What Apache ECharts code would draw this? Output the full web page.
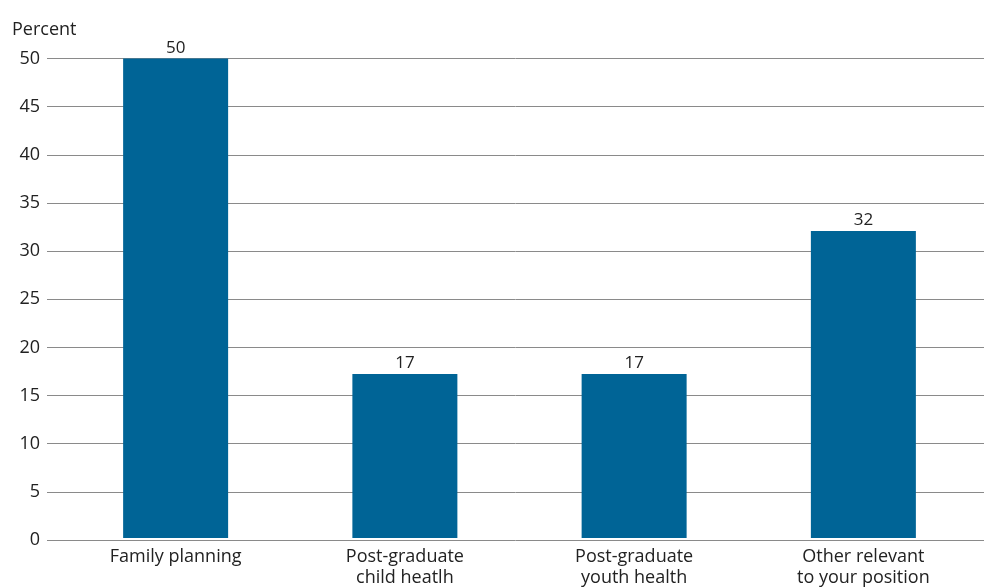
<!DOCTYPE html>
<html><head><meta charset="utf-8">
<script src="https://cdn.jsdelivr.net/npm/echarts@6/dist/echarts.min.js"></script>
<style>html,body{margin:0;padding:0;background:#fff}#c{width:984px;height:588px}</style>
</head><body><div id="c"></div>
<script>
const categories = ['Family planning', 'Post-graduate\nchild heatlh', 'Post-graduate\nyouth health', 'Other relevant\nto your position'];
const values = [50, 17.1, 17.1, 32.0];
const yTicks = { min: 0, max: 50, interval: 5 };
const yName = 'Percent';

const font = '"Open Sans", "Noto Sans", sans-serif';
const txt = '#222';
const gridCol = '#8a8a8a';
const chart = echarts.init(document.getElementById('c'), null, { renderer: 'canvas' });
chart.setOption({
  animation: false,
  textStyle: { fontFamily: font },
  grid: [
    { left: 47, right: 0, top: 58.5, bottom: 48 },
    { left: 61, right: 6, top: 58.5, bottom: 48 }
  ],
  xAxis: [
    { gridIndex: 0, type: 'category', data: ['a'], show: false },
    { gridIndex: 1, type: 'category', data: categories,
      axisLine: { show: false }, axisTick: { show: false },
      axisLabel: { color: txt, fontSize: 18, fontFamily: font, lineHeight: 21, margin: 8 } }
  ],
  yAxis: [
    { gridIndex: 0, type: 'value', min: yTicks.min, max: yTicks.max, interval: yTicks.interval,
      name: yName, nameLocation: 'end', nameGap: 0,
      nameTextStyle: { color: txt, fontSize: 18, fontFamily: font, align: 'left', padding: [0, 0, 20, -35] },
      axisLine: { show: false }, axisTick: { show: false },
      axisLabel: { color: txt, fontSize: 18, fontFamily: font, margin: 7 },
      splitLine: { lineStyle: { color: gridCol, width: 1 } } },
    { gridIndex: 1, type: 'value', min: yTicks.min, max: yTicks.max, interval: yTicks.interval, show: false,
      splitLine: { show: false } }
  ],
  series: [{
    type: 'bar', xAxisIndex: 1, yAxisIndex: 1,
    data: values, barWidth: 105,
    itemStyle: { color: '#006496' },
    label: { show: true, position: 'top', distance: 2, color: txt, fontSize: 17, fontFamily: font,
      formatter: p => Math.round(p.value) }
  }]
});
</script></body></html>
